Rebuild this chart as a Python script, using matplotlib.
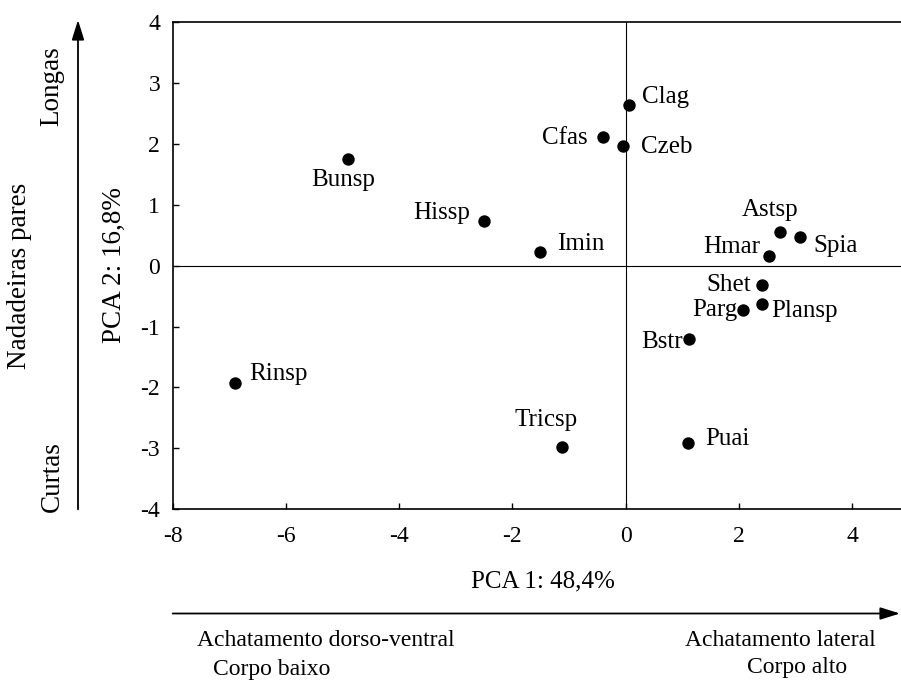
import matplotlib
matplotlib.use("Agg")
import matplotlib.pyplot as plt
from matplotlib.patches import FancyArrowPatch

plt.rcParams['font.family'] = ['Liberation Serif', 'DejaVu Serif']
plt.rcParams['axes.unicode_minus'] = False

# species scores on the first two PCA axes
species = ['Clag', 'Czeb', 'Cfas', 'Bunsp', 'Hissp', 'Imin', 'Rinsp', 'Tricsp',
           'Astsp', 'Spia', 'Hmar', 'Shet', 'Parg', 'Plansp', 'Bstr', 'Puai']
pca1 = [0.06, -0.04, -0.40, -4.90, -2.51, -1.51, -6.90, -1.13,
        2.73, 3.08, 2.54, 2.41, 2.07, 2.41, 1.12, 1.11]
pca2 = [2.64, 1.97, 2.12, 1.75, 0.73, 0.22, -1.92, -2.97,
        0.55, 0.47, 0.16, -0.31, -0.72, -0.63, -1.20, -2.91]

# label placement: offset in pixels and alignment
label_pos = {
    'Clag': (13, 8, 'left'), 'Czeb': (18, -1, 'left'), 'Cfas': (-15, -1, 'right'),
    'Bunsp': (-5, -21, 'center'), 'Hissp': (-13, 8, 'right'), 'Imin': (17, 8, 'left'),
    'Rinsp': (14, 9, 'left'), 'Tricsp': (-16, 27, 'center'), 'Astsp': (-10, 22, 'center'),
    'Spia': (13, -9, 'left'), 'Hmar': (-9, 9, 'right'), 'Shet': (-11, 0, 'right'),
    'Parg': (-5, 0, 'right'), 'Plansp': (9, -7, 'left'), 'Bstr': (-6, -3, 'right'),
    'Puai': (17, 4, 'left'),
}

W, H = 901, 681
fig = plt.figure(figsize=(W / 100, H / 100), dpi=100)
ax = fig.add_axes([172.7 / W, 1 - 509.3 / H, 1 - 172.7 / W, (509.3 - 22) / H])

ax.axhline(0, color='black', lw=0.8, zorder=1)
ax.axvline(0, color='black', lw=0.8, zorder=1)
ax.scatter(pca1, pca2, s=80, color='black', zorder=3, linewidths=0)

for name, x, y in zip(species, pca1, pca2):
    dx, dy, ha = label_pos[name]
    ax.annotate(name, (x, y), xytext=(dx, dy), textcoords='offset pixels',
                ha=ha, va='center', fontsize=18)

ax.set_xlim(-8, (W - 625.7) / 56.6)
ax.set_ylim(-4, 4)
ax.set_xticks(range(-8, 5, 2))
ax.set_yticks(range(-4, 5))
ax.tick_params(axis='both', direction='in', length=4, width=1, labelsize=17)
ax.tick_params(axis='x', pad=12)
ax.tick_params(axis='y', pad=9)
ax.spines['right'].set_visible(False)
for s in ['top', 'left', 'bottom']:
    ax.spines[s].set_linewidth(1.2)


def fx(px):
    return px / W


def fy(py):
    return 1 - py / H


arrow_style = '-|>,head_length=0.8,head_width=0.25'
fig.add_artist(FancyArrowPatch((fx(78), fy(509.3)), (fx(78), fy(20)),
                               transform=fig.transFigure, arrowstyle=arrow_style,
                               mutation_scale=15, color='black', lw=1.3,
                               shrinkA=0, shrinkB=0))
fig.add_artist(FancyArrowPatch((fx(172.7), fy(613.5)), (fx(900), fy(613.5)),
                               transform=fig.transFigure, arrowstyle=arrow_style,
                               mutation_scale=15, color='black', lw=1.3,
                               shrinkA=0, shrinkB=0))

fig.text(fx(542.5), fy(581.7), 'PCA 1: 48,4%', ha='center', va='center', fontsize=18)
fig.text(fx(197), fy(641), 'Achatamento dorso-ventral', ha='left', va='center', fontsize=17)
fig.text(fx(213), fy(670), 'Corpo baixo', ha='left', va='center', fontsize=17)
fig.text(fx(876), fy(640), 'Achatamento lateral', ha='right', va='center', fontsize=17)
fig.text(fx(847), fy(668), 'Corpo alto', ha='right', va='center', fontsize=17)

fig.text(fx(114), fy(265), 'PCA 2: 16,8%', ha='center', va='center', rotation=90, fontsize=19.5)
fig.text(fx(20), fy(276), 'Nadadeiras pares', ha='center', va='center', rotation=90, fontsize=19.5)
fig.text(fx(52), fy(86.5), 'Longas', ha='center', va='center', rotation=90, fontsize=19.5)
fig.text(fx(52), fy(477), 'Curtas', ha='center', va='center', rotation=90, fontsize=19.5)

fig.savefig('out.png', dpi=100)
